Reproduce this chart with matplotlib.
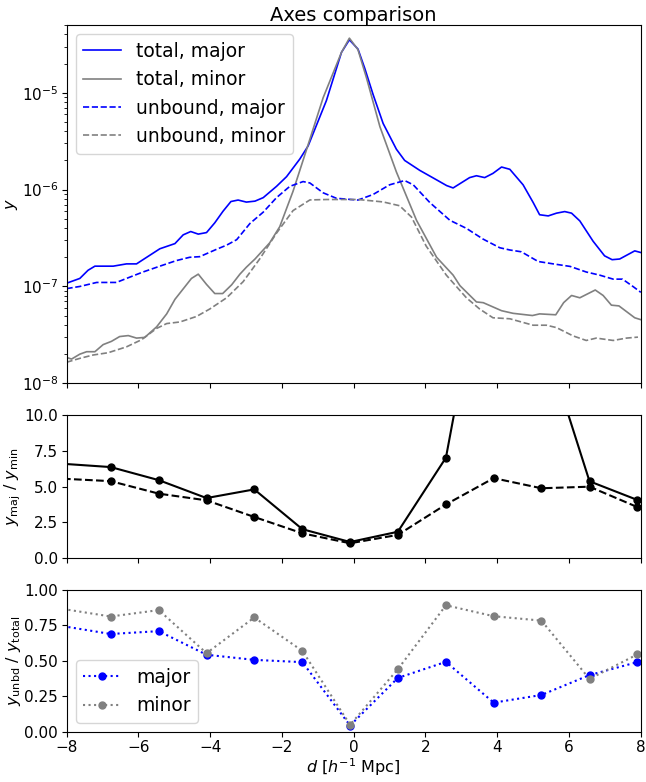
import numpy as np
import matplotlib
matplotlib.use("Agg")
import matplotlib.pyplot as plt

# profiles along the axis (fine sampling)
d_tot_maj = [-8.0, -7.63, -7.40, -7.21, -6.70, -6.33, -6.05, -5.87, -5.40, -4.98, -4.75, -4.54,
             -4.33, -4.10, -3.87, -3.64, -3.42, -3.22, -2.99, -2.75, -2.52, -2.15, -1.87, -1.50,
             -1.27, -0.76, -0.34, -0.12, 0.12, 0.31, 0.54, 0.82, 1.19, 1.42, 1.84, 2.31, 2.59,
             2.77, 3.23, 3.42, 3.65, 3.88, 4.12, 4.35, 4.72, 5.00, 5.18, 5.42, 5.65, 5.88, 6.07,
             6.30, 6.67, 6.99, 7.20, 7.41, 7.83, 8.0]
y_tot_maj = [1.08e-7, 1.21e-7, 1.47e-7, 1.62e-7, 1.62e-7, 1.71e-7, 1.71e-7, 1.89e-7, 2.45e-7,
             2.77e-7, 3.41e-7, 3.69e-7, 3.47e-7, 3.6e-7, 4.54e-7, 5.98e-7, 7.53e-7, 7.8e-7,
             7.43e-7, 7.6e-7, 8.26e-7, 1.08e-6, 1.36e-6, 2.07e-6, 2.82e-6, 8.3e-6, 2.61e-5,
             3.52e-5, 2.82e-5, 1.78e-5, 9.6e-6, 4.82e-6, 2.61e-6, 2.0e-6, 1.58e-6, 1.26e-6,
             1.10e-6, 1.04e-6, 1.33e-6, 1.39e-6, 1.33e-6, 1.47e-6, 1.71e-6, 1.62e-6, 1.12e-6,
             7.36e-7, 5.5e-7, 5.35e-7, 5.71e-7, 5.93e-7, 5.71e-7, 4.75e-7, 2.93e-7, 2.07e-7,
             1.89e-7, 1.92e-7, 2.33e-7, 2.24e-7]

d_tot_min = [-8.0, -7.86, -7.63, -7.44, -7.21, -6.98, -6.75, -6.52, -6.28, -6.05, -5.82, -5.49,
             -5.21, -4.98, -4.52, -4.33, -4.10, -3.87, -3.65, -3.40, -3.17, -2.99, -2.75, -2.34,
             -2.06, -1.69, -1.31, -0.85, -0.34, -0.12, 0.12, 0.36, 0.73, 1.19, 1.75, 2.31, 2.77,
             2.96, 3.42, 3.61, 4.12, 4.44, 4.98, 5.18, 5.63, 5.85, 6.07, 6.30, 6.73, 6.95, 7.18,
             7.39, 7.83, 8.0]
y_tot_min = [1.85e-8, 1.78e-8, 2.0e-8, 2.12e-8, 2.12e-8, 2.51e-8, 2.71e-8, 3.04e-8, 3.11e-8,
             2.93e-8, 2.98e-8, 3.83e-8, 5.21e-8, 7.36e-8, 1.21e-7, 1.34e-7, 1.05e-7, 8.45e-8,
             8.45e-8, 1.04e-7, 1.34e-7, 1.58e-7, 1.92e-7, 2.82e-7, 4.14e-7, 9.6e-7, 2.61e-6,
             8.9e-6, 2.61e-5, 3.66e-5, 2.78e-5, 1.41e-5, 4.47e-6, 1.52e-6, 4.82e-7, 2.0e-7,
             1.31e-7, 1.02e-7, 6.92e-8, 6.8e-8, 5.62e-8, 5.28e-8, 5.01e-8, 5.21e-8, 5.1e-8,
             6.81e-8, 8.07e-8, 7.64e-8, 9.19e-8, 8.07e-8, 6.41e-8, 6.3e-8, 4.75e-8, 4.54e-8]

d_unb_maj = [-8.0, -7.63, -7.16, -6.61, -6.33, -5.87, -5.40, -4.94, -4.57, -4.29, -3.82, -3.54,
             -3.26, -2.89, -2.52, -2.15, -1.78, -1.41, -1.22, -0.85, -0.48, 0.12, 0.54, 1.00,
             1.42, 1.66, 2.12, 2.68, 3.14, 3.60, 4.07, 4.35, 4.67, 5.14, 5.56, 6.03, 6.48,
             6.85, 7.23, 7.49, 7.78, 8.0]
y_unb_maj = [9.5e-8, 1.0e-7, 1.10e-7, 1.10e-7, 1.21e-7, 1.41e-7, 1.62e-7, 1.85e-7, 2.0e-7,
             2.03e-7, 2.42e-7, 2.67e-7, 3.04e-7, 4.47e-7, 5.85e-7, 8.26e-7, 1.08e-6, 1.21e-6,
             1.17e-6, 9.26e-7, 8.13e-7, 7.8e-7, 8.9e-7, 1.12e-6, 1.24e-6, 1.12e-6, 7.36e-7,
             4.82e-7, 3.98e-7, 3.09e-7, 2.51e-7, 2.38e-7, 2.28e-7, 1.81e-7, 1.71e-7, 1.61e-7,
             1.41e-7, 1.31e-7, 1.19e-7, 1.19e-7, 1.0e-7, 8.7e-8]

d_unb_min = [-8.0, -7.63, -7.26, -6.84, -6.33, -5.91, -5.49, -5.21, -4.84, -4.38, -4.01, -3.54,
             -3.08, -2.62, -2.15, -1.69, -1.22, -0.76, 0.12, 0.82, 1.28, 1.61, 2.02, 2.58,
             3.14, 3.51, 3.88, 4.35, 4.67, 5.00, 5.37, 5.65, 6.11, 6.48, 6.76, 7.23, 7.60, 7.92]
y_unb_min = [1.65e-8, 1.81e-8, 1.96e-8, 2.07e-8, 2.38e-8, 2.82e-8, 3.69e-8, 4.14e-8, 4.3e-8,
             4.9e-8, 5.85e-8, 7.64e-8, 1.12e-7, 1.92e-7, 3.55e-7, 6.07e-7, 7.82e-7, 7.9e-7,
             7.9e-7, 7.46e-7, 6.81e-7, 5.21e-7, 2.61e-7, 1.31e-7, 7.64e-8, 5.85e-8, 4.75e-8,
             4.64e-8, 4.3e-8, 3.98e-8, 3.98e-8, 3.76e-8, 3.09e-8, 2.77e-8, 2.93e-8, 2.77e-8,
             2.93e-8, 3.0e-8]

# coarse bins used for the ratios
d_bins = [-8.1, -6.77, -5.43, -4.1, -2.77, -1.43, -0.1, 1.23, 2.57, 3.9, 5.23, 6.57, 7.9]
ratio_tot = [6.6, 6.37, 5.45, 4.19, 4.80, 2.0, 1.10, 1.82, 7.03, 25.0, 16.0, 5.37, 4.06]
ratio_unb = [5.55, 5.38, 4.50, 4.03, 2.86, 1.71, 1.01, 1.60, 3.74, 5.59, 4.88, 4.99, 3.56]
frac_maj = [0.744, 0.689, 0.709, 0.543, 0.507, 0.491, 0.045, 0.380, 0.493, 0.206, 0.260, 0.400, 0.491]
frac_min = [0.865, 0.812, 0.857, 0.554, 0.805, 0.570, 0.05, 0.441, 0.891, 0.814, 0.783, 0.373, 0.545]

fig, (ax1, ax2, ax3) = plt.subplots(3, 1, figsize=(6.46, 7.82), dpi=100, sharex=True,
                                    gridspec_kw=dict(height_ratios=[2.52, 1, 1]))
plt.subplots_adjust(left=0.103, right=0.992, top=0.968, bottom=0.064, hspace=0.15)

ax1.plot(d_tot_maj, y_tot_maj, color="blue", lw=1.2, label="total, major")
ax1.plot(d_tot_min, y_tot_min, color="gray", lw=1.2, label="total, minor")
ax1.plot(d_unb_maj, y_unb_maj, color="blue", lw=1.2, ls="--", label="unbound, major")
ax1.plot(d_unb_min, y_unb_min, color="gray", lw=1.2, ls="--", label="unbound, minor")
ax1.set_yscale("log")
ax1.set_ylim(1e-8, 5e-5)
ax1.set_ylabel("$y$", fontsize=11.5, labelpad=1)
ax1.set_title("Axes comparison", fontsize=14, pad=3)
ax1.legend(loc="upper left", fontsize=13.5)

ax2.plot(d_bins, ratio_tot, "o-", color="black", ms=5)
ax2.plot(d_bins, ratio_unb, "o--", color="black", ms=5)
ax2.set_ylim(0, 10)
ax2.set_yticks([0, 2.5, 5, 7.5, 10])
ax2.set_ylabel(r"$y_\mathrm{maj}$ / $y_\mathrm{min}$", fontsize=11.5, labelpad=1)

ax3.plot(d_bins, frac_maj, "o:", color="blue", ms=5, label="major")
ax3.plot(d_bins, frac_min, "o:", color="gray", ms=5, label="minor")
ax3.set_ylim(0, 1)
ax3.set_yticks([0, 0.25, 0.5, 0.75, 1.0])
ax3.set_ylabel(r"$y_\mathrm{unbd}$ / $y_\mathrm{total}$", fontsize=11.5, labelpad=1)
ax3.set_xlabel(r"$d$ [$h^{-1}$ Mpc]", fontsize=11.5, labelpad=1)
ax3.legend(loc="lower left", fontsize=13.5)

ax3.set_xlim(-8, 8)
ax3.set_xticks(np.arange(-8, 9, 2))
for ax in (ax1, ax2, ax3):
    ax.tick_params(labelsize=11, pad=2.5)

plt.savefig("out.png")
